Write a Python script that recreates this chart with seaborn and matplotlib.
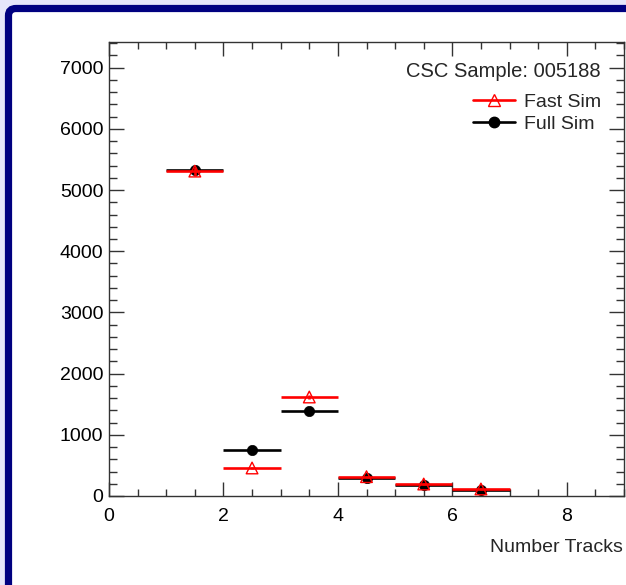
import numpy as np
import pandas as pd
import matplotlib
matplotlib.use("Agg")
import matplotlib.pyplot as plt
import matplotlib.patches as mpatches
from matplotlib.lines import Line2D
from matplotlib.ticker import MultipleLocator
import seaborn as sns

# ---- data ----
bin_low = [1, 2, 3, 4, 5, 6]
bin_high = [2, 3, 4, 5, 6, 7]
fast_sim = [5310, 458, 1618, 316, 196, 115]
full_sim = [5325, 752, 1395, 300, 180, 100]
x_ticks = [0, 2, 4, 6, 8]
y_ticks = [0, 1000, 2000, 3000, 4000, 5000, 6000, 7000]
legend_title = "CSC Sample: 005188"
series_names = ["Fast Sim", "Full Sim"]
x_label = "Number Tracks"

sns.set_style("ticks")
plt.rcParams["font.family"] = ["Liberation Sans", "DejaVu Sans"]

centers = [(a + b) / 2 for a, b in zip(bin_low, bin_high)]
halfw = [(b - a) / 2 for a, b in zip(bin_low, bin_high)]
df = pd.DataFrame({
    "x": centers * 2,
    "y": fast_sim + full_sim,
    "series": [series_names[0]] * len(centers) + [series_names[1]] * len(centers),
})

W, H = 626, 585
fig = plt.figure(figsize=(W / 100, H / 100), dpi=100)
fig.patch.set_facecolor("#e6e6fa")

# navy frame
frame = mpatches.FancyBboxPatch((8.5 / W, -0.1), 1.2, (H - 8.5) / H + 0.1,
                                boxstyle="round,pad=0,rounding_size=0.012",
                                transform=fig.transFigure, facecolor="white",
                                edgecolor="#000080", linewidth=5.2, zorder=-10)
fig.patches.append(frame)

ax = fig.add_axes([109 / W, 1 - 496 / H, (624 - 109) / W, (496 - 42) / H])
ax.set_zorder(5)
ax.set_facecolor("white")

full_df = df[df["series"] == series_names[1]]
fast_df = df[df["series"] == series_names[0]]

# Full Sim (black) first
ax.errorbar(full_df["x"], full_df["y"], xerr=halfw, yerr=np.sqrt(full_df["y"]),
            fmt="none", ecolor="black", elinewidth=1.9, capsize=0, zorder=2)
sns.scatterplot(data=full_df, x="x", y="y", ax=ax, color="black", marker="o",
                s=55, edgecolor="black", linewidth=0.5, zorder=3, legend=False)
# Fast Sim (red) on top
ax.errorbar(fast_df["x"], fast_df["y"], xerr=halfw, yerr=np.sqrt(fast_df["y"]),
            fmt="none", ecolor="red", elinewidth=1.9, capsize=0, zorder=4)
sns.scatterplot(data=fast_df, x="x", y="y", ax=ax, marker="^", s=70,
                facecolor="none", edgecolor="red", linewidth=1.0, zorder=5, legend=False)

ax.set_xlim(0, 9)
ax.set_ylim(0, 7420)
ax.set_xticks(x_ticks)
ax.set_yticks(y_ticks)
ax.xaxis.set_minor_locator(MultipleLocator(0.5))
ax.yaxis.set_minor_locator(MultipleLocator(200))
ax.tick_params(axis="both", which="both", direction="in", top=True, right=True,
               colors="#333333", labelcolor="black", labelsize=14, width=1.0)
ax.tick_params(axis="x", which="major", length=9.8, pad=8.5)
ax.tick_params(axis="x", which="minor", length=4.9)
ax.tick_params(axis="y", which="major", length=11, pad=4)
ax.tick_params(axis="y", which="minor", length=5.5)
for s in ax.spines.values():
    s.set_visible(True)
    s.set_color("#333333")
    s.set_linewidth(1.0)

ax.set_xlabel(x_label, fontsize=14)
ax.set_ylabel("")
ax.xaxis.set_label_coords(0.997, -0.094)
ax.xaxis.label.set_horizontalalignment("right")
ax.xaxis.label.set_verticalalignment("top")

# legend header
ax.text(0.9553, (496 - 77) / 454, legend_title, transform=ax.transAxes,
        ha="right", va="baseline", fontsize=14.5)

handles = [
    Line2D([0], [0], color="red", lw=1.9, marker="^", markersize=9,
           markerfacecolor="none", markeredgecolor="red"),
    Line2D([0], [0], color="black", lw=1.9, marker="o", markersize=7.5,
           markerfacecolor="black", markeredgecolor="black"),
]
leg = ax.legend(handles=handles, labels=series_names,
                loc="upper right", bbox_to_anchor=(0.971, 0.905), frameon=False,
                fontsize=14, handlelength=2.2,
                handletextpad=0.45, labelspacing=0.24, borderaxespad=0)

fig.savefig("out.png", dpi=100, facecolor=fig.get_facecolor())
